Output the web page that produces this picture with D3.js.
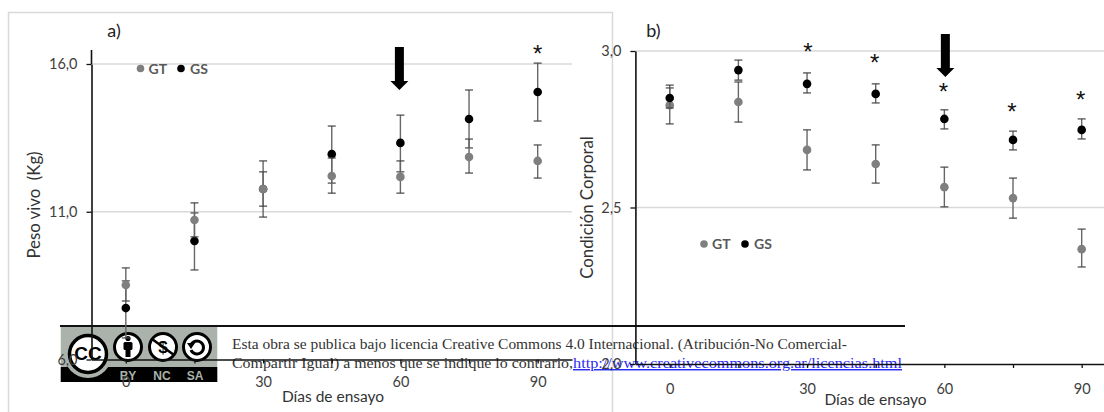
<!DOCTYPE html>
<html><head><meta charset="utf-8">
<script src="https://cdn.jsdelivr.net/npm/d3@7"></script>
<style>
html,body{margin:0;padding:0;background:#fff;overflow:hidden}
svg{display:block}
text{font-family:Lato,"Open Sans",sans-serif}
</style></head><body>
<svg id="c" width="1104" height="412"></svg>
<script>
// ---------- data ----------
const days = [0,15,30,45,60,75,90];
const xTickLabels = [0,30,60,90];

const pesoTicks = [6,11,16];
const pesoGT      = [8.52,10.72,11.77,12.21,12.18,12.85,12.72];
const pesoGTHigh  = [9.10,11.30,12.35,12.82,12.72,13.46,13.26];
const pesoGTLow   = [7.98,10.15,11.19,11.63,11.63,12.31,12.14];
const pesoGS      = [7.74,10.01,11.77,12.95,13.33,14.14,15.05];
const pesoGSHigh  = [8.66,10.96,12.72,13.90,14.27,15.12,16.03];
const pesoGSLow   = [6.73, 9.03,10.82,11.97,12.35,13.16,14.07];
const pesoStars   = [90];

const ccTicks = [2,2.5,3];
const ccGT      = [2.827,2.837,2.684,2.639,2.565,2.530,2.367];
const ccGTHigh  = [2.891,2.901,2.748,2.700,2.629,2.594,2.431];
const ccGTLow   = [2.767,2.773,2.620,2.578,2.502,2.466,2.310];
const ccGS      = [2.850,2.939,2.895,2.863,2.783,2.716,2.748];
const ccGSHigh  = [2.882,2.971,2.930,2.895,2.812,2.744,2.783];
const ccGSLow   = [2.818,2.907,2.866,2.834,2.751,2.684,2.719];
const ccStars   = [30,45,60,75,90];

const licenceLine1 = "Esta obra se publica bajo licencia Creative Commons 4.0 Internacional. (Atribución-No Comercial-";
const licenceLine2 = "Compartir Igual) a menos que se indique lo contrario, ";
const licenceLink  = "http://www.creativecommons.org.ar/licencias.html";

const GT_COLOR="#7f7f7f", GS_COLOR="#000", TXT="#404040", GRID="#d9d9d9";
const svg=d3.select("#c");

// outer frame of panel a
svg.append("path").attr("d","M8.5,412V12.5H612.5V412").attr("fill","none").attr("stroke",GRID).attr("stroke-width",1.5);

const gA=svg.append("g"), banner=svg.append("g"), gFront=svg.append("g");

// ---------- CC banner ----------
(function(){
  const defs=svg.append("defs");
  defs.append("clipPath").attr("id","logoClip").append("rect").attr("x",60.5).attr("y",327).attr("width",157).attr("height",55);
  const logo=banner.append("g").attr("clip-path","url(#logoClip)");
  logo.append("rect").attr("x",60.5).attr("y",327).attr("width",157).attr("height",55).attr("fill","#aab2ab");
  logo.append("rect").attr("x",60.5).attr("y",367).attr("width",157).attr("height",15).attr("fill","#000");
  logo.append("circle").attr("cx",88).attr("cy",354).attr("r",24).attr("fill","#aab2ab");
  logo.append("circle").attr("cx",88).attr("cy",354).attr("r",18.5).attr("fill","#fff").attr("stroke","#000").attr("stroke-width",3.5);
  logo.append("text").attr("x",88).attr("y",360).attr("text-anchor","middle").attr("font-size",19).attr("font-weight",900).attr("fill","#000").style("font-family","Liberation Sans").text("CC");
  [128,163,197].forEach(cx=>logo.append("circle").attr("cx",cx).attr("cy",347).attr("r",13.5).attr("fill","#fff").attr("stroke","#000").attr("stroke-width",3));
  // BY person
  logo.append("circle").attr("cx",128).attr("cy",338.5).attr("r",2.6).attr("fill","#000");
  logo.append("rect").attr("x",123.5).attr("y",342).attr("width",9).attr("height",8).attr("rx",1.5).attr("fill","#000");
  logo.append("rect").attr("x",125.5).attr("y",349).attr("width",5).attr("height",8).attr("fill","#000");
  // NC
  logo.append("text").attr("x",163).attr("y",353).attr("text-anchor","middle").attr("font-size",17).attr("font-weight",700).style("font-family","Liberation Sans").text("$");
  logo.append("line").attr("x1",152).attr("y1",339).attr("x2",174).attr("y2",355).attr("stroke","#000").attr("stroke-width",2.5);
  // SA
  logo.append("path").attr("d","M191,345A6.5,6.5 0 1 1 191,350").attr("fill","none").attr("stroke","#000").attr("stroke-width",3);
  logo.append("path").attr("d","M187,343L195,343L191,349Z").attr("fill","#000");
  [["BY",128],["NC",162],["SA",195]].forEach(d=>logo.append("text").attr("x",d[1]).attr("y",380).attr("text-anchor","middle").attr("font-size",12).attr("font-weight",700).attr("fill","#aab2ab").style("font-family","Liberation Sans").text(d[0]));
  banner.append("line").attr("x1",60).attr("x2",905).attr("y1",326).attr("y2",326).attr("stroke","#111").attr("stroke-width",2);
  const serif=t=>t.style("font-family","'Liberation Serif',serif").attr("font-size",14.5);
  serif(banner.append("text").attr("x",232).attr("y",349).attr("fill","#333").attr("textLength",615).attr("lengthAdjust","spacingAndGlyphs").text(licenceLine1));
  serif(banner.append("text").attr("x",232).attr("y",368).attr("fill","#333").attr("textLength",341).attr("lengthAdjust","spacingAndGlyphs").text(licenceLine2));
  serif(banner.append("text").attr("x",573).attr("y",368).attr("fill","#2a2af5").attr("text-decoration","underline").attr("textLength",329).attr("lengthAdjust","spacingAndGlyphs").text(licenceLink));
})();

// ---------- panels ----------
function panel(o){
  const x=d3.scaleLinear().domain([-7.5,97.5]).range(o.xr);
  const y=d3.scaleLinear().domain(o.yd).range(o.yr);
  const g=gFront.append("g");
  gA.selectAll(null).data(o.grid).join("line")
    .attr("x1",o.xr[0]).attr("x2",Math.min(o.xr[1],1104)).attr("y1",d=>y(d)).attr("y2",d=>y(d))
    .attr("stroke",GRID).attr("stroke-width",1.5);
  g.append("g").attr("transform",`translate(0,${o.yr[0]})`)
    .call(d3.axisBottom(x).tickValues(days).tickSize(4).tickSizeOuter(0).tickPadding(o.xPad)
      .tickFormat(d=>xTickLabels.includes(d)?d:""));
  g.append("g").attr("transform",`translate(${o.xr[0]},0)`)
    .call(d3.axisLeft(y).tickValues(o.ticks).tickSize(5).tickSizeOuter(0).tickPadding(o.yPad)
      .tickFormat(d=>d3.format(".1f")(d).replace(".",",")));
  g.selectAll(".domain").attr("stroke","#111").attr("stroke-width",1.6);
  g.selectAll(".tick line").attr("stroke","#111").attr("stroke-width",1.3);
  g.selectAll(".tick text").attr("fill",TXT).attr("font-size",14.5).style("font-family","Lato");
  g.append("line").attr("x1",o.xr[0]).attr("x2",o.xr[0]).attr("y1",y(o.yd[1])).attr("y2",o.axisTop).attr("stroke","#111").attr("stroke-width",1.6);
  o.series.forEach(s=>{
    const sg=g.append("g");
    const idx=days.map((d,i)=>i);
    sg.selectAll(".bar").data(idx).join("line").attr("class","bar")
      .attr("x1",i=>x(days[i])).attr("x2",i=>x(days[i])).attr("y1",i=>y(s.hi[i])).attr("y2",i=>y(s.lo[i]))
      .attr("stroke","#666").attr("stroke-width",1.4);
    [s.hi,s.lo].forEach(arr=>sg.selectAll(null).data(idx).join("line")
      .attr("x1",i=>x(days[i])-4).attr("x2",i=>x(days[i])+4).attr("y1",i=>y(arr[i])).attr("y2",i=>y(arr[i]))
      .attr("stroke","#444").attr("stroke-width",1.2));
    sg.selectAll("circle").data(idx).join("circle")
      .attr("cx",i=>x(days[i])).attr("cy",i=>y(s.v[i])).attr("r",4.3).attr("fill",s.c);
  });
  return {x,y,g};
}

const A=panel({xr:[91.5,572],yr:[359.5,64],yd:[6,16],ticks:pesoTicks,grid:[11,16],axisTop:50,xPad:13,yPad:9,
  series:[{v:pesoGS,hi:pesoGSHigh,lo:pesoGSLow,c:GS_COLOR},{v:pesoGT,hi:pesoGTHigh,lo:pesoGTLow,c:GT_COLOR}]});
const B=panel({xr:[635.4,1116],yr:[364,51],yd:[2,3],ticks:ccTicks,grid:[2.5,3],axisTop:51,xPad:16,yPad:9,
  series:[{v:ccGT,hi:ccGTHigh,lo:ccGTLow,c:GT_COLOR},{v:ccGS,hi:ccGSHigh,lo:ccGSLow,c:GS_COLOR}]});

// ---------- labels ----------
function label(x,y,t,size,opt={}){
  const e=gFront.append("text").attr("x",x).attr("y",y).attr("font-size",size).attr("fill",opt.fill||TXT)
    .attr("text-anchor",opt.anchor||"middle").attr("font-weight",opt.weight||400).text(t);
  if(opt.rot) e.attr("transform",`rotate(-90 ${x} ${y})`);
  return e;
}
label(114,37,"a)",18,{fill:"#222"});
label(653.5,37,"b)",18,{fill:"#222"});
label(40,205,"Peso vivo  (Kg)",16.8,{rot:true,fill:"#333"}).style("white-space","pre");
label(592.5,207.5,"Condición Corporal",16.8,{rot:true,fill:"#333"});
label(333,402,"Días de ensayo",15.5,{fill:"#333"});
label(875.5,405,"Días de ensayo",15.5,{fill:"#333"});

// legends
function legend(x0,x1,y){
  gFront.append("circle").attr("cx",x0).attr("cy",y).attr("r",3.8).attr("fill",GT_COLOR);
  gFront.append("circle").attr("cx",x1).attr("cy",y).attr("r",3.8).attr("fill",GS_COLOR);
  label(x0+8,y+5,"GT",14,{anchor:"start",weight:700,fill:"#595959"});
  label(x1+9,y+5,"GS",14,{anchor:"start",weight:700,fill:"#595959"});
}
legend(140.5,181,68.5);
legend(704,745,244);

// asterisks
function star(x,y){ label(x,y,"*",24,{fill:"#111"}).style("font-family","'Liberation Sans'"); }
pesoStars.forEach(d=>star(A.x(d),62));
const ccStarY={30:60,45:71,60:100,75:120,90:108};
ccStars.forEach(d=>star(B.x(d)+(d===30?1:-1),ccStarY[d]));

// treatment arrows
function arrow(cx,top){
  gFront.append("path").attr("fill","#000")
   .attr("d",`M${cx-4.5},${top}H${cx+4.5}V${top+34}H${cx+9}L${cx},${top+43}L${cx-9},${top+34}H${cx-4.5}Z`);
}
arrow(A.x(60)-1,47);
arrow(B.x(60)+1,34);
</script>
</body></html>
